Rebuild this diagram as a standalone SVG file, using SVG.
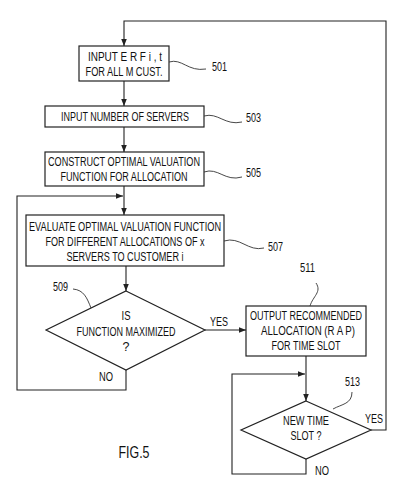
<svg xmlns="http://www.w3.org/2000/svg" width="419" height="500" viewBox="0 0 419 500">
<defs>
<marker id="ah" viewBox="0 0 10 10" refX="10" refY="5" markerWidth="7" markerHeight="7" markerUnits="userSpaceOnUse" orient="auto">
<path d="M0,1 L10,5 L0,9 Z" fill="#222"/>
</marker>
<style>
.box{fill:#fff;stroke:#222;stroke-width:1.2}
.ln{fill:none;stroke:#222;stroke-width:1.1}
.cv{fill:none;stroke:#333;stroke-width:0.9}
text{font-family:"Liberation Sans",Arial,sans-serif;font-size:12.5px;fill:#111;text-anchor:middle}
.ref{font-size:12px;text-anchor:start}
.fig{font-size:16.5px}
</style>
</defs>
<rect width="419" height="500" fill="#fff"/>
<g id="connectors">
<path class="ln" d="M371,430 H386 V21 H124 V46" marker-end="url(#ah)"/>
<path class="ln" d="M124,81 V106" marker-end="url(#ah)"/>
<path class="ln" d="M124,127 V152" marker-end="url(#ah)"/>
<path class="ln" d="M124,186 V215" marker-end="url(#ah)"/>
<path class="ln" d="M126,266 V291" marker-end="url(#ah)"/>
<path class="ln" d="M126,370 V390 H17 V196 H123" marker-end="url(#ah)"/>
<path class="ln" d="M205,330 H246" marker-end="url(#ah)"/>
<path class="ln" d="M306,356 V401" marker-end="url(#ah)"/>
<path class="ln" d="M306,459 V474 H232 V374 H305" marker-end="url(#ah)"/>
<text x="219" y="326" textLength="18" lengthAdjust="spacingAndGlyphs">YES</text>
<text x="106" y="381" textLength="14" lengthAdjust="spacingAndGlyphs">NO</text>
<text x="322" y="475" textLength="14" lengthAdjust="spacingAndGlyphs">NO</text>
<text x="374" y="423" textLength="18" lengthAdjust="spacingAndGlyphs">YES</text>
</g>
<g id="n501">
<rect class="box" x="79" y="46" width="90" height="35"/>
<text x="125" y="61" textLength="74" lengthAdjust="spacingAndGlyphs">INPUT  E R F  i , t</text>
<text x="124" y="76" textLength="77" lengthAdjust="spacingAndGlyphs">FOR ALL M CUST.</text>
<path class="cv" d="M169,62 C182,58 188,72 206,69"/>
<text class="ref" x="212" y="71" textLength="15" lengthAdjust="spacingAndGlyphs">501</text>
</g>
<g id="n503">
<rect class="box" x="45" y="106" width="159" height="21"/>
<text x="125" y="121" textLength="128" lengthAdjust="spacingAndGlyphs">INPUT NUMBER OF SERVERS</text>
<path class="cv" d="M204,116 C218,112 225,126 242,122"/>
<text class="ref" x="246" y="122" textLength="15" lengthAdjust="spacingAndGlyphs">503</text>
</g>
<g id="n505">
<rect class="box" x="45" y="152" width="159" height="34"/>
<text x="124" y="166" textLength="152" lengthAdjust="spacingAndGlyphs">CONSTRUCT OPTIMAL VALUATION</text>
<text x="124" y="181" textLength="127" lengthAdjust="spacingAndGlyphs">FUNCTION FOR ALLOCATION</text>
<path class="cv" d="M204,172 C218,167 225,182 242,177"/>
<text class="ref" x="246" y="177" textLength="15" lengthAdjust="spacingAndGlyphs">505</text>
</g>
<g id="n507">
<rect class="box" x="26" y="215" width="198" height="51"/>
<text x="125" y="231" textLength="192" lengthAdjust="spacingAndGlyphs">EVALUATE OPTIMAL VALUATION FUNCTION</text>
<text x="125" y="246" textLength="159" lengthAdjust="spacingAndGlyphs">FOR DIFFERENT ALLOCATIONS OF x</text>
<text x="125" y="261" textLength="117" lengthAdjust="spacingAndGlyphs">SERVERS TO CUSTOMER i</text>
<path class="cv" d="M224,241 C240,236 248,252 264,248"/>
<text class="ref" x="268" y="251" textLength="15" lengthAdjust="spacingAndGlyphs">507</text>
</g>
<g id="n509">
<polygon class="box" points="126,291 205,330 126,370 46,330"/>
<text x="126" y="320" textLength="9" lengthAdjust="spacingAndGlyphs">IS</text>
<text x="126" y="336" textLength="99" lengthAdjust="spacingAndGlyphs">FUNCTION MAXIMIZED</text>
<text x="126" y="351">?</text>
<path class="cv" d="M73,289 C84,290 87,298 91,308"/>
<text class="ref" x="53" y="291" textLength="15" lengthAdjust="spacingAndGlyphs">509</text>
</g>
<g id="n511">
<rect class="box" x="246" y="306" width="120" height="50"/>
<text x="306" y="320" textLength="112" lengthAdjust="spacingAndGlyphs">OUTPUT RECOMMENDED</text>
<text x="308" y="335" textLength="94" lengthAdjust="spacingAndGlyphs">ALLOCATION (R A P)</text>
<text x="306" y="350" textLength="69" lengthAdjust="spacingAndGlyphs">FOR TIME SLOT</text>
<path class="cv" d="M316,283 C322,292 313,296 310,306"/>
<text class="ref" x="300" y="272" textLength="15" lengthAdjust="spacingAndGlyphs">511</text>
</g>
<g id="n513">
<polygon class="box" points="306,401 371,430 306,459 241,430"/>
<text x="306" y="425" textLength="46" lengthAdjust="spacingAndGlyphs">NEW TIME</text>
<text x="306" y="440" textLength="31" lengthAdjust="spacingAndGlyphs">SLOT ?</text>
<path class="cv" d="M352,392 C352,404 342,404 333,409"/>
<text class="ref" x="345" y="386" textLength="15" lengthAdjust="spacingAndGlyphs">513</text>
</g>
<text class="fig" x="134" y="458" textLength="31" lengthAdjust="spacingAndGlyphs">FIG.5</text>
</svg>
